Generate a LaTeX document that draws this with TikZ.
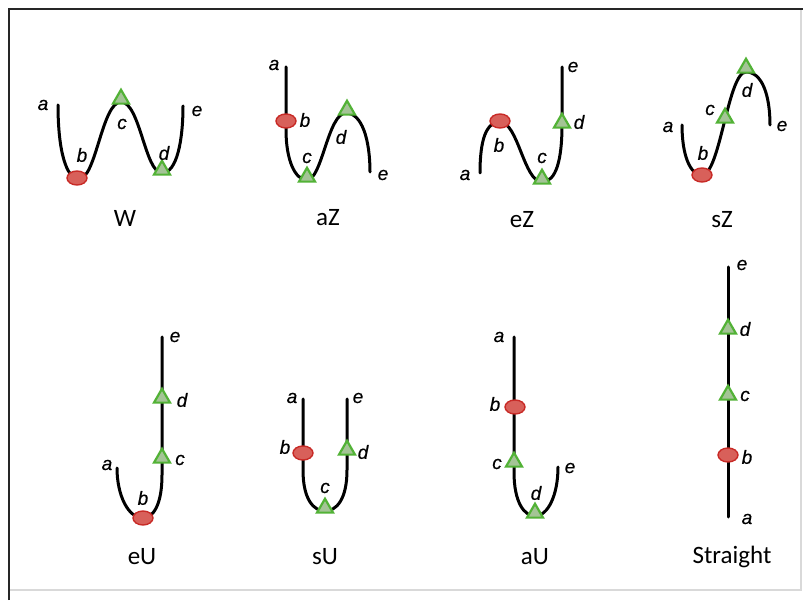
\documentclass[tikz,border=0pt]{standalone}
\usepackage{fontspec}
\setmainfont{Liberation Sans}
\newfontfamily\lblfont[FakeBold=0.5]{Liberation Sans}
\newfontfamily\titlefont{Carlito}
\usetikzlibrary{shapes.geometric}
\definecolor{redfill}{HTML}{D8605A}
\definecolor{redline}{HTML}{C82A26}
\definecolor{grnline}{HTML}{52B236}
\definecolor{grnfill}{HTML}{A4C496}
\tikzset{
  curve/.style={line width=3pt, black, line cap=round},
  redmark/.style={ellipse, draw=redline, fill=redfill, line width=1.4pt, minimum width=20pt, minimum height=14pt, inner sep=0pt},
  grnmark/.style={regular polygon, regular polygon sides=3, draw=grnline, fill=grnfill, line width=2.2pt, minimum size=18.5pt, inner sep=0pt},
  lbl/.style={font=\lblfont\fontsize{19}{19}\selectfont\itshape, inner sep=0pt},
  ttl/.style={font=\titlefont\fontsize{25}{25}\selectfont, inner sep=0pt},
  frameline/.style={line width=2pt, black!85},
  faintline/.style={line width=1.2pt, black!15}
}
\begin{document}
\begin{tikzpicture}[x=1pt,y=1pt]
\useasboundingbox (0,0) rectangle (803,600);
% frame
\coordinate (F1) at (9,0);
\coordinate (F2) at (9,591);
\coordinate (F3) at (803,591);
\coordinate (F4) at (801,591);
\coordinate (F5) at (801,10);
\coordinate (F6) at (9,10);
\draw[faintline] (F4) -- (F5) -- (F6);
\draw[frameline] (F1) -- (F2) -- (F3);

% ===== W =====
\coordinate (Wa) at (58,495);
\coordinate (Wb1) at (79,421);
\coordinate (Wc1) at (121,498);
\coordinate (Wd1) at (162,427);
\coordinate (We) at (183,494);
\draw[curve] (Wa) .. controls (58,450) and (66,421) .. (Wb1)
  .. controls (96,421) and (102,498) .. (Wc1)
  .. controls (140,498) and (145,427) .. (Wd1)
  .. controls (177,427) and (183,460) .. (We);
\node[redmark] (Wb) at (77,422) {};
\node[grnmark] (Wc) at (121,501) {};
\node[grnmark] (Wd) at (162,430) {};
\node[lbl] (lWa) at (43,495) {a};
\node[lbl] (lWb) at (82,445) {b};
\node[lbl] (lWc) at (122,476) {c};
\node[lbl] (lWd) at (164,447) {d};
\node[lbl] (lWe) at (197,489) {e};
\node[ttl] (tW) at (125,382) {W};

% ===== aZ =====
\coordinate (aZa) at (286,533);
\coordinate (aZm) at (286,470);
\coordinate (aZc1) at (307,420);
\coordinate (aZd1) at (346,487);
\coordinate (aZe) at (370,428);
\draw[curve] (aZa) -- (aZm) .. controls (286,440) and (295,420) .. (aZc1)
  .. controls (322,420) and (328,487) .. (aZd1)
  .. controls (362,487) and (370,460) .. (aZe);
\node[redmark] (aZb) at (286,479) {};
\node[grnmark] (aZc) at (307,423) {};
\node[grnmark] (aZd) at (347,490) {};
\node[lbl] (laZa) at (274,535) {a};
\node[lbl] (laZb) at (305,480) {b};
\node[lbl] (laZc) at (307,442) {c};
\node[lbl] (laZd) at (341,463) {d};
\node[lbl] (laZe) at (383,425) {e};
\node[ttl] (taZ) at (328,382) {aZ};

% ===== eZ =====
\coordinate (eZa) at (480,427);
\coordinate (eZb1) at (500,478);
\coordinate (eZc1) at (542,418);
\coordinate (eZm) at (562,475);
\coordinate (eZe) at (562,533);
\draw[curve] (eZa) .. controls (480,460) and (486,478) .. (eZb1)
  .. controls (518,478) and (524,418) .. (eZc1)
  .. controls (556,418) and (562,440) .. (eZm) -- (eZe);
\node[redmark] (eZb) at (500,479) {};
\node[grnmark] (eZc) at (542,421) {};
\node[grnmark] (eZd) at (562,477) {};
\node[lbl] (leZa) at (465,425) {a};
\node[lbl] (leZb) at (499,455) {b};
\node[lbl] (leZc) at (542,442) {c};
\node[lbl] (leZd) at (579,478) {d};
\node[lbl] (leZe) at (573,533) {e};
\node[ttl] (teZ) at (522,380) {eZ};

% ===== sZ =====
\coordinate (sZa) at (682,475);
\coordinate (sZb1) at (702,425);
\coordinate (sZd1) at (746,528);
\coordinate (sZe) at (770,475);
\draw[curve] (sZa) .. controls (682,445) and (690,425) .. (sZb1)
  .. controls (720,425) and (728,528) .. (sZd1)
  .. controls (762,528) and (770,505) .. (sZe);
\node[redmark] (sZb) at (702,425) {};
\node[grnmark] (sZc) at (725,482) {};
\node[grnmark] (sZd) at (746,532) {};
\node[lbl] (lsZa) at (668,473) {a};
\node[lbl] (lsZb) at (703,447) {b};
\node[lbl] (lsZc) at (710,490) {c};
\node[lbl] (lsZd) at (747,510) {d};
\node[lbl] (lsZe) at (782,474) {e};
\node[ttl] (tsZ) at (722,380) {sZ};

% ===== eU =====
\coordinate (eUe) at (162,263);
\coordinate (eUm) at (162,125);
\coordinate (eUb1) at (143,82);
\coordinate (eUa) at (117,132);
\draw[curve] (eUe) -- (eUm) .. controls (162,95) and (153,82) .. (eUb1)
  .. controls (128,82) and (117,105) .. (eUa);
\node[grnmark] (eUd) at (162,202) {};
\node[grnmark] (eUc) at (162,142) {};
\node[redmark] (eUb) at (143,82) {};
\node[lbl] (leUe) at (175,263) {e};
\node[lbl] (leUd) at (182,200) {d};
\node[lbl] (leUc) at (180,140) {c};
\node[lbl] (leUb) at (143,102) {b};
\node[lbl] (leUa) at (107,135) {a};
\node[ttl] (teU) at (142,43) {eU};

% ===== sU =====
\coordinate (sUa) at (303,201);
\coordinate (sUm1) at (303,130);
\coordinate (sUc1) at (325,89);
\coordinate (sUm2) at (347,130);
\coordinate (sUe) at (347,201);
\draw[curve] (sUa) -- (sUm1) .. controls (303,100) and (314,89) .. (sUc1)
  .. controls (336,89) and (347,100) .. (sUm2) -- (sUe);
\node[redmark] (sUb) at (303,147) {};
\node[grnmark] (sUc) at (325,92) {};
\node[grnmark] (sUd) at (347,150) {};
\node[lbl] (lsUa) at (292,202) {a};
\node[lbl] (lsUb) at (285,153) {b};
\node[lbl] (lsUc) at (325,112) {c};
\node[lbl] (lsUd) at (363,148) {d};
\node[lbl] (lsUe) at (358,202) {e};
\node[ttl] (tsU) at (325,43) {sU};

% ===== aU =====
\coordinate (aUa) at (514,263);
\coordinate (aUm) at (514,128);
\coordinate (aUd1) at (535,84);
\coordinate (aUe) at (558,133);
\draw[curve] (aUa) -- (aUm) .. controls (514,98) and (524,84) .. (aUd1)
  .. controls (548,84) and (558,105) .. (aUe);
\node[redmark] (aUb) at (515,193) {};
\node[grnmark] (aUc) at (514,138) {};
\node[grnmark] (aUd) at (535,87) {};
\node[lbl] (laUa) at (499,263) {a};
\node[lbl] (laUb) at (495,196) {b};
\node[lbl] (laUc) at (497,136) {c};
\node[lbl] (laUd) at (536,107) {d};
\node[lbl] (laUe) at (570,132) {e};
\node[ttl] (taU) at (535,43) {aU};

% ===== Straight =====
\coordinate (Se) at (728,333);
\coordinate (Sa) at (728,83);
\draw[curve] (Se) -- (Sa);
\node[grnmark] (Sd) at (728,271) {};
\node[grnmark] (Sc) at (728,205) {};
\node[redmark] (Sb) at (728,145) {};
\node[lbl] (lSe) at (742,335) {e};
\node[lbl] (lSd) at (745,271) {d};
\node[lbl] (lSc) at (745,204) {c};
\node[lbl] (lSb) at (747,143) {b};
\node[lbl] (lSa) at (747,81) {a};
\node[ttl] (tS) at (732,43) {Straight};
\end{tikzpicture}
\end{document}
